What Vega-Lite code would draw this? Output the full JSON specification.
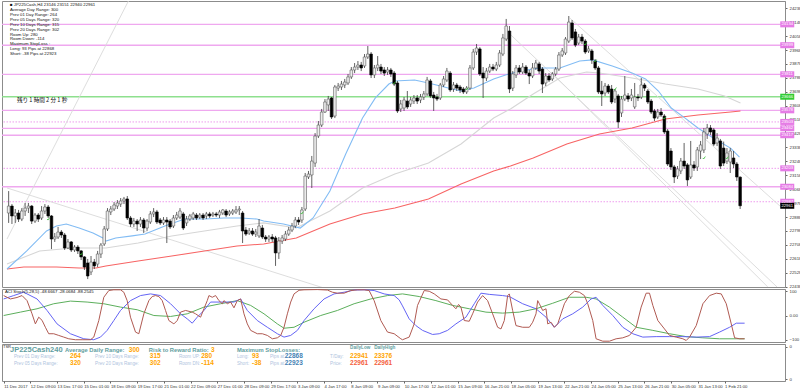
{
"$schema": "https://vega.github.io/schema/vega-lite/v6.json",
"background": "white",
"padding": {"left": 0, "top": 0, "right": 0, "bottom": 0},
"spacing": 2,
"bounds": "flush",
"config": {"view": {"stroke": "#8c8c8c", "strokeWidth": 1}, "font": "Liberation Sans", "axis": {"labelFont": "Liberation Sans", "grid": false, "title": null, "domainColor": "#8c8c8c", "tickColor": "#666666", "labelColor": "#333333", "labelFontSize": 4.3, "tickSize": 2, "labelPadding": 2, "labelOverlap": false, "tickCount": 60}},
"datasets": {
"candles": [
{"i":0,"o":22914,"c":22959,"h":23056,"l":22850},{"i":1,"o":22959,"c":22895,"h":22972,"l":22843},{"i":2,"o":22895,"c":22914,"h":22940,"l":22850},{"i":3,"o":22914,"c":22875,"h":22934,"l":22856},{"i":4,"o":22875,"c":22927,"h":22946,"l":22862},{"i":5,"o":22927,"c":22946,"h":22979,"l":22895},{"i":6,"o":22946,"c":22959,"h":22979,"l":22914},{"i":7,"o":22959,"c":22862,"h":22966,"l":22843},{"i":8,"o":22862,"c":22901,"h":22914,"l":22850},{"i":9,"o":22901,"c":22875,"h":22914,"l":22856},
{"i":10,"o":22882,"c":22927,"h":22959,"l":22869},{"i":11,"o":22927,"c":22953,"h":22972,"l":22908},{"i":12,"o":22953,"c":22895,"h":22966,"l":22882},{"i":13,"o":22895,"c":22746,"h":22901,"l":22681},{"i":14,"o":22746,"c":22759,"h":22785,"l":22727},{"i":15,"o":22759,"c":22791,"h":22824,"l":22746},{"i":16,"o":22791,"c":22772,"h":22804,"l":22753},{"i":17,"o":22772,"c":22688,"h":22785,"l":22675},{"i":18,"o":22688,"c":22727,"h":22746,"l":22681},{"i":19,"o":22727,"c":22675,"h":22733,"l":22662},
{"i":20,"o":22675,"c":22694,"h":22707,"l":22662},{"i":21,"o":22694,"c":22669,"h":22707,"l":22649},{"i":22,"o":22669,"c":22630,"h":22675,"l":22610},{"i":23,"o":22630,"c":22565,"h":22636,"l":22546},{"i":24,"o":22591,"c":22507,"h":22617,"l":22487},{"i":25,"o":22533,"c":22597,"h":22636,"l":22513},{"i":26,"o":22597,"c":22572,"h":22617,"l":22552},{"i":27,"o":22584,"c":22649,"h":22669,"l":22565},{"i":28,"o":22649,"c":22707,"h":22720,"l":22623},{"i":29,"o":22714,"c":22811,"h":22830,"l":22701},
{"i":30,"o":22811,"c":22927,"h":22946,"l":22798},{"i":31,"o":22921,"c":22940,"h":22959,"l":22901},{"i":32,"o":22940,"c":22966,"h":22985,"l":22927},{"i":33,"o":22959,"c":22979,"h":22998,"l":22940},{"i":34,"o":22972,"c":22992,"h":23011,"l":22953},{"i":35,"o":22992,"c":23005,"h":23018,"l":22972},{"i":36,"o":23005,"c":22882,"h":23024,"l":22869},{"i":37,"o":22882,"c":22843,"h":22895,"l":22824},{"i":38,"o":22843,"c":22862,"h":22882,"l":22824},{"i":39,"o":22862,"c":22843,"h":22875,"l":22798},
{"i":40,"o":22843,"c":22869,"h":22888,"l":22824},{"i":41,"o":22869,"c":22817,"h":22882,"l":22785},{"i":42,"o":22817,"c":22862,"h":22875,"l":22798},{"i":43,"o":22856,"c":22908,"h":22927,"l":22843},{"i":44,"o":22908,"c":22921,"h":22946,"l":22888},{"i":45,"o":22921,"c":22856,"h":22934,"l":22843},{"i":46,"o":22869,"c":22850,"h":22882,"l":22837},{"i":47,"o":22850,"c":22869,"h":22888,"l":22837},{"i":48,"o":22869,"c":22856,"h":22888,"l":22720},{"i":49,"o":22862,"c":22824,"h":22875,"l":22811},
{"i":50,"o":22830,"c":22882,"h":22901,"l":22817},{"i":51,"o":22882,"c":22901,"h":22921,"l":22869},{"i":52,"o":22888,"c":22927,"h":22946,"l":22875},{"i":53,"o":22908,"c":22817,"h":22921,"l":22804},{"i":54,"o":22850,"c":22875,"h":22895,"l":22830},{"i":55,"o":22875,"c":22895,"h":22908,"l":22862},{"i":56,"o":22882,"c":22908,"h":22921,"l":22869},{"i":57,"o":22901,"c":22882,"h":22914,"l":22869},{"i":58,"o":22888,"c":22901,"h":22914,"l":22875},{"i":59,"o":22901,"c":22882,"h":22914,"l":22869},
{"i":60,"o":22895,"c":22908,"h":22921,"l":22875},{"i":61,"o":22908,"c":22895,"h":22921,"l":22882},{"i":62,"o":22901,"c":22908,"h":22921,"l":22888},{"i":63,"o":22908,"c":22901,"h":22921,"l":22888},{"i":64,"o":22901,"c":22921,"h":22934,"l":22882},{"i":65,"o":22914,"c":22934,"h":22940,"l":22901},{"i":66,"o":22927,"c":22901,"h":22940,"l":22888},{"i":67,"o":22908,"c":22921,"h":22934,"l":22895},{"i":68,"o":22914,"c":22927,"h":22940,"l":22901},{"i":69,"o":22921,"c":22934,"h":22959,"l":22908},
{"i":70,"o":22934,"c":22940,"h":22959,"l":22901},{"i":71,"o":22914,"c":22798,"h":22927,"l":22720},{"i":72,"o":22804,"c":22778,"h":22824,"l":22766},{"i":73,"o":22785,"c":22798,"h":22817,"l":22772},{"i":74,"o":22798,"c":22778,"h":22817,"l":22766},{"i":75,"o":22778,"c":22791,"h":22811,"l":22759},{"i":76,"o":22766,"c":22830,"h":22875,"l":22753},{"i":77,"o":22817,"c":22759,"h":22837,"l":22746},{"i":78,"o":22759,"c":22746,"h":22772,"l":22727},{"i":79,"o":22746,"c":22759,"h":22772,"l":22727},
{"i":80,"o":22759,"c":22746,"h":22778,"l":22727},{"i":81,"o":22753,"c":22656,"h":22766,"l":22572},{"i":82,"o":22656,"c":22733,"h":22759,"l":22617},{"i":83,"o":22733,"c":22753,"h":22772,"l":22714},{"i":84,"o":22746,"c":22778,"h":22798,"l":22733},{"i":85,"o":22778,"c":22804,"h":22824,"l":22766},{"i":86,"o":22804,"c":22830,"h":22850,"l":22791},{"i":87,"o":22830,"c":22869,"h":22888,"l":22817},{"i":88,"o":22869,"c":22856,"h":22888,"l":22837},{"i":89,"o":22869,"c":22934,"h":22953,"l":22850},
{"i":90,"o":22940,"c":23153,"h":23173,"l":22927},{"i":91,"o":23147,"c":23166,"h":23186,"l":23134},{"i":92,"o":23160,"c":23250,"h":23283,"l":23076},{"i":93,"o":23237,"c":23412,"h":23431,"l":23212},{"i":94,"o":23412,"c":23483,"h":23509,"l":23399},{"i":95,"o":23483,"c":23567,"h":23587,"l":23470},{"i":96,"o":23567,"c":23632,"h":23651,"l":23561},{"i":97,"o":23613,"c":23651,"h":23671,"l":23574},{"i":98,"o":23658,"c":23535,"h":23664,"l":23522},{"i":99,"o":23541,"c":23729,"h":23742,"l":23528},
{"i":100,"o":23722,"c":23735,"h":23755,"l":23703},{"i":101,"o":23729,"c":23748,"h":23768,"l":23710},{"i":102,"o":23742,"c":23761,"h":23781,"l":23722},{"i":103,"o":23755,"c":23794,"h":23813,"l":23742},{"i":104,"o":23794,"c":23839,"h":23858,"l":23781},{"i":105,"o":23839,"c":23858,"h":23884,"l":23819},{"i":106,"o":23858,"c":23871,"h":23897,"l":23839},{"i":107,"o":23871,"c":23852,"h":23891,"l":23832},{"i":108,"o":23865,"c":23923,"h":23942,"l":23852},{"i":109,"o":23923,"c":23942,"h":23994,"l":23910},
{"i":110,"o":23942,"c":23807,"h":23955,"l":23787},{"i":111,"o":23807,"c":23852,"h":23871,"l":23787},{"i":112,"o":23852,"c":23871,"h":23929,"l":23832},{"i":113,"o":23858,"c":23832,"h":23878,"l":23813},{"i":114,"o":23839,"c":23819,"h":23858,"l":23800},{"i":115,"o":23826,"c":23839,"h":23858,"l":23807},{"i":116,"o":23839,"c":23813,"h":23852,"l":23794},{"i":117,"o":23819,"c":23748,"h":23832,"l":23735},{"i":118,"o":23755,"c":23574,"h":23768,"l":23561},{"i":119,"o":23587,"c":23619,"h":23645,"l":23567},
{"i":120,"o":23593,"c":23645,"h":23664,"l":23574},{"i":121,"o":23638,"c":23600,"h":23703,"l":23587},{"i":122,"o":23619,"c":23645,"h":23664,"l":23600},{"i":123,"o":23638,"c":23658,"h":23677,"l":23619},{"i":124,"o":23658,"c":23638,"h":23677,"l":23619},{"i":125,"o":23645,"c":23664,"h":23684,"l":23625},{"i":126,"o":23664,"c":23684,"h":23703,"l":23645},{"i":127,"o":23684,"c":23774,"h":23794,"l":23671},{"i":128,"o":23768,"c":23671,"h":23781,"l":23658},{"i":129,"o":23677,"c":23658,"h":23697,"l":23574},
{"i":130,"o":23664,"c":23651,"h":23684,"l":23638},{"i":131,"o":23658,"c":23742,"h":23755,"l":23645},{"i":132,"o":23742,"c":23781,"h":23800,"l":23729},{"i":133,"o":23774,"c":23832,"h":23852,"l":23761},{"i":134,"o":23819,"c":23710,"h":23832,"l":23697},{"i":135,"o":23716,"c":23742,"h":23761,"l":23697},{"i":136,"o":23742,"c":23722,"h":23755,"l":23703},{"i":137,"o":23729,"c":23710,"h":23742,"l":23690},{"i":138,"o":23716,"c":23697,"h":23729,"l":23684},{"i":139,"o":23697,"c":23722,"h":23735,"l":23684},
{"i":140,"o":23722,"c":23852,"h":23871,"l":23710},{"i":141,"o":23852,"c":23955,"h":23975,"l":23839},{"i":142,"o":23955,"c":23981,"h":24007,"l":23936},{"i":143,"o":23975,"c":23813,"h":23987,"l":23800},{"i":144,"o":23819,"c":23787,"h":23858,"l":23658},{"i":145,"o":23787,"c":23832,"h":23852,"l":23768},{"i":146,"o":23832,"c":23858,"h":23878,"l":23819},{"i":147,"o":23858,"c":23845,"h":23878,"l":23832},{"i":148,"o":23845,"c":23871,"h":23891,"l":23832},{"i":149,"o":23871,"c":23949,"h":23968,"l":23858},
{"i":150,"o":23942,"c":24046,"h":24072,"l":23929},{"i":151,"o":24039,"c":24123,"h":24169,"l":24026},{"i":152,"o":24091,"c":23716,"h":24123,"l":23690},{"i":153,"o":23722,"c":23813,"h":23832,"l":23703},{"i":154,"o":23807,"c":23852,"h":23871,"l":23787},{"i":155,"o":23852,"c":23826,"h":23871,"l":23813},{"i":156,"o":23826,"c":23858,"h":23884,"l":23813},{"i":157,"o":23858,"c":23819,"h":23871,"l":23807},{"i":158,"o":23819,"c":23800,"h":23839,"l":23748},{"i":159,"o":23800,"c":23852,"h":23884,"l":23787},
{"i":160,"o":23852,"c":23884,"h":23904,"l":23839},{"i":161,"o":23878,"c":23832,"h":23891,"l":23813},{"i":162,"o":23845,"c":23748,"h":23858,"l":23690},{"i":163,"o":23755,"c":23800,"h":23819,"l":23735},{"i":164,"o":23800,"c":23774,"h":23819,"l":23761},{"i":165,"o":23781,"c":23813,"h":23826,"l":23768},{"i":166,"o":23813,"c":23845,"h":23858,"l":23800},{"i":167,"o":23845,"c":23936,"h":23955,"l":23832},{"i":168,"o":23936,"c":23962,"h":23981,"l":23923},{"i":169,"o":23949,"c":24039,"h":24052,"l":23936},
{"i":170,"o":24026,"c":24149,"h":24188,"l":24013},{"i":171,"o":24143,"c":24046,"h":24162,"l":24033},{"i":172,"o":24085,"c":24000,"h":24104,"l":23987},{"i":173,"o":24013,"c":24052,"h":24072,"l":24000},{"i":174,"o":24052,"c":24026,"h":24072,"l":24007},{"i":175,"o":24026,"c":23955,"h":24039,"l":23942},{"i":176,"o":23962,"c":23975,"h":23994,"l":23949},{"i":177,"o":23962,"c":23904,"h":23975,"l":23878},{"i":178,"o":23897,"c":23852,"h":23910,"l":23839},{"i":179,"o":23852,"c":23697,"h":23865,"l":23684},
{"i":180,"o":23703,"c":23684,"h":23768,"l":23606},{"i":181,"o":23690,"c":23735,"h":23755,"l":23671},{"i":182,"o":23735,"c":23697,"h":23748,"l":23684},{"i":183,"o":23716,"c":23632,"h":23742,"l":23619},{"i":184,"o":23651,"c":23703,"h":23716,"l":23625},{"i":185,"o":23671,"c":23503,"h":23684,"l":23464},{"i":186,"o":23561,"c":23651,"h":23671,"l":23535},{"i":187,"o":23651,"c":23677,"h":23800,"l":23638},{"i":188,"o":23671,"c":23651,"h":23690,"l":23632},{"i":189,"o":23658,"c":23677,"h":23716,"l":23638},
{"i":190,"o":23600,"c":23664,"h":23755,"l":23587},{"i":191,"o":23664,"c":23658,"h":23684,"l":23638},{"i":192,"o":23664,"c":23742,"h":23787,"l":23651},{"i":193,"o":23742,"c":23722,"h":23755,"l":23703},{"i":194,"o":23703,"c":23632,"h":23716,"l":23619},{"i":195,"o":23638,"c":23567,"h":23651,"l":23554},{"i":196,"o":23574,"c":23528,"h":23587,"l":23509},{"i":197,"o":23535,"c":23567,"h":23587,"l":23522},{"i":198,"o":23567,"c":23548,"h":23593,"l":23535},{"i":199,"o":23541,"c":23438,"h":23554,"l":23425},
{"i":200,"o":23444,"c":23231,"h":23457,"l":23218},{"i":201,"o":23315,"c":23212,"h":23334,"l":23192},{"i":202,"o":23212,"c":23147,"h":23225,"l":23108},{"i":203,"o":23153,"c":23199,"h":23218,"l":23134},{"i":204,"o":23186,"c":23250,"h":23270,"l":23166},{"i":205,"o":23250,"c":23218,"h":23367,"l":23199},{"i":206,"o":23225,"c":23128,"h":23237,"l":23089},{"i":207,"o":23147,"c":23225,"h":23380,"l":23134},{"i":208,"o":23225,"c":23205,"h":23250,"l":23186},{"i":209,"o":23212,"c":23322,"h":23341,"l":23186},
{"i":210,"o":23315,"c":23354,"h":23380,"l":23263},{"i":211,"o":23322,"c":23438,"h":23464,"l":23302},{"i":212,"o":23425,"c":23464,"h":23490,"l":23393},{"i":213,"o":23464,"c":23438,"h":23483,"l":23419},{"i":214,"o":23451,"c":23360,"h":23464,"l":23347},{"i":215,"o":23367,"c":23399,"h":23431,"l":23347},{"i":216,"o":23380,"c":23218,"h":23393,"l":23199},{"i":217,"o":23334,"c":23237,"h":23376,"l":23218},{"i":218,"o":23250,"c":23302,"h":23334,"l":23231},{"i":219,"o":23244,"c":23315,"h":23334,"l":23173},
{"i":220,"o":23270,"c":23231,"h":23315,"l":23205},{"i":221,"o":23231,"c":23147,"h":23244,"l":23121},{"i":222,"o":23146,"c":22961,"h":23151,"l":22940}
],
"signals": [
{"i":12,"p":22875},{"i":22,"p":22649},{"i":89,"p":22914},{"i":117,"p":23755},{"i":139,"p":23716},{"i":175,"p":24007},{"i":178,"p":23897},{"i":184,"p":23716},{"i":199,"p":23528},{"i":211,"p":23270},{"i":218,"p":23270}
],
"ma": [
{"s":"blue","i":-0.5,"p":22552},{"s":"blue","i":5.5,"p":22669},{"s":"blue","i":11.5,"p":22798},{"s":"blue","i":14.5,"p":22830},{"s":"blue","i":17.5,"p":22843},{"s":"blue","i":21.4,"p":22817},{"s":"blue","i":25.6,"p":22785},{"s":"blue","i":28.6,"p":22753},{"s":"blue","i":29.5,"p":22733},{"s":"blue","i":32.5,"p":22753},{"s":"blue","i":37.5,"p":22766},{"s":"blue","i":41.4,"p":22778},{"s":"blue","i":47.4,"p":22830},{"s":"blue","i":53.4,"p":22875},{"s":"blue","i":59.4,"p":22875},{"s":"blue","i":65.4,"p":22882},{"s":"blue","i":70.5,"p":22882},{"s":"blue","i":75.3,"p":22875},{"s":"blue","i":77.4,"p":22862},{"s":"blue","i":83.4,"p":22843},{"s":"blue","i":88.5,"p":22817},{"s":"blue","i":92.4,"p":22882},{"s":"blue","i":97.5,"p":23056},{"s":"blue","i":102.3,"p":23296},{"s":"blue","i":107.4,"p":23528},{"s":"blue","i":111.3,"p":23658},{"s":"blue","i":115.4,"p":23748},{"s":"blue","i":117.2,"p":23768},{"s":"blue","i":123.2,"p":23774},{"s":"blue","i":127.4,"p":23755},{"s":"blue","i":133.4,"p":23722},{"s":"blue","i":137.3,"p":23703},{"s":"blue","i":141.2,"p":23722},{"s":"blue","i":147.2,"p":23781},{"s":"blue","i":150.8,"p":23807},{"s":"blue","i":155.3,"p":23832},{"s":"blue","i":161.3,"p":23852},{"s":"blue","i":167.3,"p":23852},{"s":"blue","i":173.3,"p":23897},{"s":"blue","i":177.2,"p":23904},{"s":"blue","i":183.2,"p":23865},{"s":"blue","i":189.2,"p":23819},{"s":"blue","i":193.3,"p":23781},{"s":"blue","i":197.2,"p":23703},{"s":"blue","i":201.1,"p":23593},{"s":"blue","i":205.3,"p":23528},{"s":"blue","i":209.2,"p":23464},{"s":"blue","i":214.3,"p":23393},{"s":"blue","i":219.1,"p":23334},{"s":"blue","i":221.8,"p":23276},
{"s":"gray","i":-0.5,"p":22584},{"s":"gray","i":9.4,"p":22669},{"s":"gray","i":19.6,"p":22688},{"s":"gray","i":29.5,"p":22688},{"s":"gray","i":39.3,"p":22720},{"s":"gray","i":49.5,"p":22766},{"s":"gray","i":59.4,"p":22798},{"s":"gray","i":69.3,"p":22830},{"s":"gray","i":77.4,"p":22850},{"s":"gray","i":87.3,"p":22817},{"s":"gray","i":97.5,"p":22927},{"s":"gray","i":107.4,"p":23076},{"s":"gray","i":117.2,"p":23166},{"s":"gray","i":127.4,"p":23237},{"s":"gray","i":137.3,"p":23360},{"s":"gray","i":147.2,"p":23528},{"s":"gray","i":152.3,"p":23587},{"s":"gray","i":159.2,"p":23684},{"s":"gray","i":167.3,"p":23787},{"s":"gray","i":175.4,"p":23826},{"s":"gray","i":179.3,"p":23819},{"s":"gray","i":189.2,"p":23787},{"s":"gray","i":199.3,"p":23748},{"s":"gray","i":209.2,"p":23716},{"s":"gray","i":217.3,"p":23671},{"s":"gray","i":222.1,"p":23625},
{"s":"red","i":-0.5,"p":22552},{"s":"red","i":4.6,"p":22565},{"s":"red","i":14.5,"p":22565},{"s":"red","i":21.4,"p":22559},{"s":"red","i":26.5,"p":22559},{"s":"red","i":29.5,"p":22572},{"s":"red","i":39.3,"p":22604},{"s":"red","i":49.5,"p":22636},{"s":"red","i":59.4,"p":22669},{"s":"red","i":69.3,"p":22701},{"s":"red","i":77.4,"p":22714},{"s":"red","i":87.3,"p":22753},{"s":"red","i":97.5,"p":22843},{"s":"red","i":107.4,"p":22908},{"s":"red","i":117.2,"p":22946},{"s":"red","i":127.4,"p":23005},{"s":"red","i":137.3,"p":23102},{"s":"red","i":147.2,"p":23186},{"s":"red","i":152.3,"p":23218},{"s":"red","i":159.2,"p":23270},{"s":"red","i":169.4,"p":23360},{"s":"red","i":179.3,"p":23425},{"s":"red","i":189.2,"p":23464},{"s":"red","i":199.3,"p":23522},{"s":"red","i":209.2,"p":23548},{"s":"red","i":219.1,"p":23567},{"s":"red","i":222.1,"p":23574}
],
"trend": [
{"id":"t1","i":-0.5,"p":22746},{"id":"t1","i":36.35,"p":24285},
{"id":"t2","i":-0.5,"p":23076},{"id":"t2","i":95.7,"p":22429},
{"id":"tA","i":150.2,"p":24110},{"id":"tA","i":233.2,"p":22436},
{"id":"tB","i":170.3,"p":24175},{"id":"tB","i":234.1,"p":22959},
{"id":"tC","i":165.2,"p":23813},{"id":"tC","i":230.4,"p":22436}
],
"levels": [
{"p":24134,"k":"s"},{"p":23999,"k":"s"},{"p":23811,"k":"s"},{"p":23666,"k":"g"},{"p":23578,"k":"s"},{"p":23503,"k":"d"},{"p":23462,"k":"s"},{"p":23417,"k":"s"},{"p":23203,"k":"d"},{"p":23084,"k":"s"},{"p":22987,"k":"d"}
],
"plabels": [
{"p":24134,"label":"24134","k":"s"},{"p":23999,"label":"23999","k":"s"},{"p":23811,"label":"23811","k":"s"},{"p":23666,"label":"23666","k":"g"},{"p":23578,"label":"23578","k":"s"},{"p":23503,"label":"23503","k":"s"},{"p":23462,"label":"23462","k":"s"},{"p":23417,"label":"23417","k":"s"},{"p":23203,"label":"23203","k":"s"},{"p":23084,"label":"23084","k":"s"},{"p":22987,"label":"22987","k":"s"},{"p":22961,"label":"22961","k":"b"}
],
"stoch": [
{"s":"k","i":0,"v":83},{"s":"k","i":2,"v":69},{"s":"k","i":4,"v":75},{"s":"k","i":5.5,"v":83},{"s":"k","i":7,"v":62},{"s":"k","i":8.5,"v":7},{"s":"k","i":9.5,"v":-35},{"s":"k","i":10.5,"v":-7},{"s":"k","i":11.5,"v":-20},{"s":"k","i":12.5,"v":-49},{"s":"k","i":13.5,"v":-76},{"s":"k","i":15,"v":-76},{"s":"k","i":16.5,"v":-83},{"s":"k","i":18,"v":-90},{"s":"k","i":19.5,"v":-97},{"s":"k","i":21.5,"v":-101},{"s":"k","i":23.5,"v":-101},{"s":"k","i":26,"v":-101},{"s":"k","i":27,"v":-90},{"s":"k","i":28.5,"v":-21},{"s":"k","i":30,"v":76},{"s":"k","i":31.5,"v":104},{"s":"k","i":33,"v":107},{"s":"k","i":35,"v":107},{"s":"k","i":36,"v":97},{"s":"k","i":37,"v":62},{"s":"k","i":38,"v":-7},{"s":"k","i":39.5,"v":-69},{"s":"k","i":40.5,"v":-76},{"s":"k","i":42,"v":7},{"s":"k","i":43.5,"v":62},{"s":"k","i":44.5,"v":79},{"s":"k","i":45.5,"v":83},{"s":"k","i":46.5,"v":79},{"s":"k","i":47.5,"v":62},{"s":"k","i":48.5,"v":21},{"s":"k","i":49.5,"v":-21},{"s":"k","i":51,"v":-35},{"s":"k","i":52,"v":-21},{"s":"k","i":53,"v":14},{"s":"k","i":54.5,"v":21},{"s":"k","i":56.5,"v":14},{"s":"k","i":57.5,"v":7},{"s":"k","i":59,"v":-7},{"s":"k","i":60,"v":28},{"s":"k","i":61,"v":62},{"s":"k","i":61.5,"v":83},{"s":"k","i":62.5,"v":76},{"s":"k","i":63.5,"v":83},{"s":"k","i":64.5,"v":62},{"s":"k","i":65.5,"v":49},{"s":"k","i":66,"v":62},{"s":"k","i":67,"v":49},{"s":"k","i":68,"v":56},{"s":"k","i":69,"v":32},{"s":"k","i":70,"v":62},{"s":"k","i":71,"v":69},{"s":"k","i":72,"v":7},{"s":"k","i":73,"v":-35},{"s":"k","i":74,"v":-62},{"s":"k","i":76,"v":-76},{"s":"k","i":77.5,"v":-76},{"s":"k","i":79,"v":-83},{"s":"k","i":80.5,"v":-97},{"s":"k","i":82,"v":-93},{"s":"k","i":83,"v":-83},{"s":"k","i":84,"v":-49},{"s":"k","i":85,"v":7},{"s":"k","i":86,"v":56},{"s":"k","i":87,"v":90},{"s":"k","i":88.5,"v":105},{"s":"k","i":90,"v":107},{"s":"k","i":94,"v":108},{"s":"k","i":97,"v":106},{"s":"k","i":98.5,"v":97},{"s":"k","i":100,"v":93},{"s":"k","i":102,"v":93},{"s":"k","i":104,"v":104},{"s":"k","i":106,"v":107},{"s":"k","i":108,"v":107},{"s":"k","i":109.5,"v":104},{"s":"k","i":111,"v":62},{"s":"k","i":113,"v":-21},{"s":"k","i":115,"v":-69},{"s":"k","i":117,"v":-76},{"s":"k","i":119,"v":-97},{"s":"k","i":119.5,"v":-101},{"s":"k","i":121.5,"v":-90},{"s":"k","i":123,"v":-35},{"s":"k","i":124,"v":42},{"s":"k","i":126,"v":104},{"s":"k","i":127.5,"v":101},{"s":"k","i":129,"v":90},{"s":"k","i":131,"v":69},{"s":"k","i":133,"v":65},{"s":"k","i":134.5,"v":42},{"s":"k","i":135.5,"v":28},{"s":"k","i":136.3,"v":46},{"s":"k","i":137,"v":35},{"s":"k","i":138,"v":-21},{"s":"k","i":139.5,"v":-24},{"s":"k","i":140.5,"v":7},{"s":"k","i":142,"v":56},{"s":"k","i":143.5,"v":83},{"s":"k","i":145,"v":62},{"s":"k","i":146.5,"v":7},{"s":"k","i":148,"v":-49},{"s":"k","i":149,"v":-56},{"s":"k","i":150,"v":-21},{"s":"k","i":151,"v":83},{"s":"k","i":151.5,"v":90},{"s":"k","i":152.5,"v":21},{"s":"k","i":153.5,"v":-42},{"s":"k","i":155.5,"v":-49},{"s":"k","i":157.5,"v":-49},{"s":"k","i":158.5,"v":-28},{"s":"k","i":159.5,"v":7},{"s":"k","i":160,"v":62},{"s":"k","i":160.5,"v":49},{"s":"k","i":161.5,"v":21},{"s":"k","i":162.5,"v":28},{"s":"k","i":163,"v":-35},{"s":"k","i":164,"v":-28},{"s":"k","i":165,"v":-49},{"s":"k","i":166,"v":-35},{"s":"k","i":167,"v":7},{"s":"k","i":168,"v":49},{"s":"k","i":169.5,"v":83},{"s":"k","i":171,"v":101},{"s":"k","i":172.5,"v":97},{"s":"k","i":174,"v":83},{"s":"k","i":175,"v":49},{"s":"k","i":176.5,"v":-21},{"s":"k","i":177.5,"v":-97},{"s":"k","i":179.5,"v":-107},{"s":"k","i":181.5,"v":-107},{"s":"k","i":183.5,"v":-97},{"s":"k","i":185.5,"v":-93},{"s":"k","i":187.5,"v":-83},{"s":"k","i":189.5,"v":-49},{"s":"k","i":191,"v":35},{"s":"k","i":192.5,"v":93},{"s":"k","i":193.5,"v":93},{"s":"k","i":194.5,"v":42},{"s":"k","i":196,"v":-21},{"s":"k","i":198,"v":-56},{"s":"k","i":199.5,"v":-83},{"s":"k","i":201.5,"v":-90},{"s":"k","i":203.5,"v":-97},{"s":"k","i":204.5,"v":-104},{"s":"k","i":205.5,"v":-90},{"s":"k","i":207.5,"v":-42},{"s":"k","i":209.5,"v":49},{"s":"k","i":211.5,"v":83},{"s":"k","i":213.5,"v":93},{"s":"k","i":215,"v":90},{"s":"k","i":216.5,"v":49},{"s":"k","i":218,"v":-35},{"s":"k","i":219,"v":-93},{"s":"k","i":220.5,"v":-97},{"s":"k","i":222,"v":-97},
{"s":"b","i":0,"v":69},{"s":"b","i":3,"v":83},{"s":"b","i":6,"v":97},{"s":"b","i":10,"v":69},{"s":"b","i":13,"v":21},{"s":"b","i":16,"v":-35},{"s":"b","i":20,"v":-76},{"s":"b","i":24,"v":-97},{"s":"b","i":27,"v":-101},{"s":"b","i":29,"v":-90},{"s":"b","i":31,"v":-62},{"s":"b","i":33,"v":-21},{"s":"b","i":35,"v":21},{"s":"b","i":38,"v":62},{"s":"b","i":41,"v":83},{"s":"b","i":44,"v":90},{"s":"b","i":47,"v":83},{"s":"b","i":50,"v":49},{"s":"b","i":53,"v":7},{"s":"b","i":55,"v":-14},{"s":"b","i":56.5,"v":-32},{"s":"b","i":58,"v":-7},{"s":"b","i":60,"v":21},{"s":"b","i":62,"v":56},{"s":"b","i":65,"v":56},{"s":"b","i":69,"v":56},{"s":"b","i":71,"v":69},{"s":"b","i":73,"v":21},{"s":"b","i":76,"v":-21},{"s":"b","i":79,"v":-49},{"s":"b","i":82,"v":-76},{"s":"b","i":84,"v":-90},{"s":"b","i":86,"v":-83},{"s":"b","i":88,"v":-62},{"s":"b","i":90,"v":-21},{"s":"b","i":93,"v":28},{"s":"b","i":96,"v":69},{"s":"b","i":99,"v":90},{"s":"b","i":102,"v":97},{"s":"b","i":105,"v":106},{"s":"b","i":108,"v":107},{"s":"b","i":111,"v":104},{"s":"b","i":114,"v":90},{"s":"b","i":117,"v":83},{"s":"b","i":118.5,"v":65},{"s":"b","i":119.5,"v":40},{"s":"b","i":121.5,"v":-14},{"s":"b","i":123.5,"v":-42},{"s":"b","i":125.5,"v":-62},{"s":"b","i":128.5,"v":-79},{"s":"b","i":130.5,"v":-76},{"s":"b","i":133,"v":-62},{"s":"b","i":135.5,"v":-35},{"s":"b","i":138.5,"v":-7},{"s":"b","i":141,"v":49},{"s":"b","i":143,"v":93},{"s":"b","i":145.5,"v":88},{"s":"b","i":149.5,"v":83},{"s":"b","i":151.5,"v":79},{"s":"b","i":155.5,"v":49},{"s":"b","i":159.5,"v":28},{"s":"b","i":162.5,"v":-7},{"s":"b","i":165,"v":-49},{"s":"b","i":167.5,"v":-14},{"s":"b","i":170.5,"v":7},{"s":"b","i":173.5,"v":35},{"s":"b","i":176,"v":69},{"s":"b","i":177.5,"v":76},{"s":"b","i":179.5,"v":42},{"s":"b","i":182.5,"v":0},{"s":"b","i":185.5,"v":-49},{"s":"b","i":188.5,"v":-76},{"s":"b","i":191.5,"v":-90},{"s":"b","i":195.5,"v":-88},{"s":"b","i":199.5,"v":-88},{"s":"b","i":203.5,"v":-88},{"s":"b","i":207.5,"v":-90},{"s":"b","i":211.5,"v":-88},{"s":"b","i":214.5,"v":-69},{"s":"b","i":217.5,"v":-49},{"s":"b","i":219.5,"v":-32},{"s":"b","i":222,"v":-32},
{"s":"g","i":0,"v":0},{"s":"g","i":5,"v":14},{"s":"g","i":10,"v":28},{"s":"g","i":15,"v":49},{"s":"g","i":20,"v":60},{"s":"g","i":25,"v":56},{"s":"g","i":30,"v":49},{"s":"g","i":35,"v":35},{"s":"g","i":40,"v":24},{"s":"g","i":45,"v":0},{"s":"g","i":50,"v":-4},{"s":"g","i":55,"v":7},{"s":"g","i":60,"v":35},{"s":"g","i":65,"v":49},{"s":"g","i":70,"v":62},{"s":"g","i":74,"v":42},{"s":"g","i":78,"v":7},{"s":"g","i":82,"v":-35},{"s":"g","i":84,"v":-53},{"s":"g","i":87,"v":-49},{"s":"g","i":90,"v":-28},{"s":"g","i":95,"v":0},{"s":"g","i":100,"v":21},{"s":"g","i":105,"v":49},{"s":"g","i":110,"v":69},{"s":"g","i":115,"v":83},{"s":"g","i":119.5,"v":90},{"s":"g","i":124.5,"v":79},{"s":"g","i":129.5,"v":62},{"s":"g","i":134.5,"v":42},{"s":"g","i":139.5,"v":28},{"s":"g","i":144.5,"v":14},{"s":"g","i":149.5,"v":10},{"s":"g","i":154.5,"v":14},{"s":"g","i":159.5,"v":28},{"s":"g","i":164.5,"v":51},{"s":"g","i":169.5,"v":76},{"s":"g","i":174.5,"v":76},{"s":"g","i":177.5,"v":69},{"s":"g","i":181.5,"v":35},{"s":"g","i":185.5,"v":-7},{"s":"g","i":189.5,"v":-49},{"s":"g","i":194.5,"v":-62},{"s":"g","i":199.5,"v":-76},{"s":"g","i":204.5,"v":-88},{"s":"g","i":209.5,"v":-93},{"s":"g","i":214.5,"v":-97},{"s":"g","i":219.5,"v":-97},{"s":"g","i":222,"v":-97}
]
},
"vconcat": [
{
"width": 783, "height": 286,
"layer": [
{"data": {"name": "levels"}, "transform": [{"filter": "datum.k == 's'"}], "mark": {"type": "rule", "color": "#efa8ef", "strokeWidth": 1.3}, "encoding": {"y": {"field": "p", "type": "quantitative", "scale": {"domain": [22435.7, 24285], "nice": false, "zero": false}, "axis": {"orient": "right", "tickCount": 60, "values": [22438,22528,22618,22708,22798,22888,22978,23068,23158,23248,23338,23428,23518,23608,23698,23788,23878,23968,24058,24148,24238], "format": "d"}}}},
{"data": {"name": "levels"}, "transform": [{"filter": "datum.k == 'g'"}], "mark": {"type": "rule", "color": "#8ee08e", "strokeWidth": 1.3}, "encoding": {"y": {"field": "p", "type": "quantitative"}}},
{"data": {"name": "levels"}, "transform": [{"filter": "datum.k == 'd'"}], "mark": {"type": "rule", "color": "#ee9cee", "strokeWidth": 1, "strokeDash": [1.5, 1.5]}, "encoding": {"y": {"field": "p", "type": "quantitative"}}},
{"data": {"name": "trend"}, "mark": {"type": "line", "color": "#d9d9d9", "strokeWidth": 0.9, "clip": true}, "encoding": {"x": {"field": "i", "type": "quantitative", "scale": {"domain": [-0.5, 234.1], "nice": false, "zero": false}, "axis": null}, "y": {"field": "p", "type": "quantitative"}, "detail": {"field": "id"}}},
{"data": {"name": "ma"}, "transform": [{"filter": "datum.s == 'gray'"}], "mark": {"type": "line", "strokeWidth": 1.1, "color": "#d6d6d6", "clip": true}, "encoding": {"x": {"field": "i", "type": "quantitative"}, "y": {"field": "p", "type": "quantitative"}}},
{"data": {"name": "ma"}, "transform": [{"filter": "datum.s == 'red'"}], "mark": {"type": "line", "strokeWidth": 1.1, "color": "#f76464", "clip": true}, "encoding": {"x": {"field": "i", "type": "quantitative"}, "y": {"field": "p", "type": "quantitative"}}},
{"data": {"name": "ma"}, "transform": [{"filter": "datum.s == 'blue'"}], "mark": {"type": "line", "strokeWidth": 1.1, "color": "#82bcf4", "clip": true}, "encoding": {"x": {"field": "i", "type": "quantitative"}, "y": {"field": "p", "type": "quantitative"}}},
{"data": {"name": "candles"}, "mark": {"type": "rule", "color": "#3a3a3a", "strokeWidth": 0.8}, "encoding": {"x": {"field": "i", "type": "quantitative"}, "y": {"field": "l", "type": "quantitative"}, "y2": {"field": "h"}}},
{"data": {"name": "candles"}, "mark": {"type": "bar", "width": 2.6, "strokeWidth": 0.6}, "encoding": {"x": {"field": "i", "type": "quantitative"}, "y": {"field": "o", "type": "quantitative"}, "y2": {"field": "c"}, "fill": {"condition": {"test": "datum.c >= datum.o", "value": "#ededed"}, "value": "#000000"}, "stroke": {"condition": {"test": "datum.c >= datum.o", "value": "#5a5a5a"}, "value": "#000000"}}},
{"data": {"name": "signals"}, "mark": {"type": "point", "shape": "M-1,0L-0.2,0.9L1.3,-1.3", "size": 5, "filled": false, "color": "#2eb82e", "strokeWidth": 0.8, "opacity": 1}, "encoding": {"x": {"field": "i", "type": "quantitative"}, "y": {"field": "p", "type": "quantitative"}}},
{"data": {"values": [{}]}, "mark": {"type": "text", "align": "left", "baseline": "top", "fontSize": 4.3, "lineHeight": 4.95, "color": "#111111"}, "encoding": {"x": {"datum": 0.4}, "y": {"datum": 24273}, "text": {"value": ["■ JP225Cash,H4  23146 23151 22940 22961", "Average Day  Range: 300", "Prev 01  Day  Range: 264", "Prev 05  Days Range: 320", "Prev 10  Days Range: 315", "Prev 20  Days Range: 302", "Room Up:     280", "Room Down: -114", "Maximum StopLoss :", "Long:  93 Pips at 22868", "Short: -38 Pips at 22923"]}}},
{"data": {"values": [{}]}, "mark": {"type": "text", "align": "left", "baseline": "middle", "fontSize": 5.6, "font": "Noto Sans CJK JP", "color": "#111111"}, "encoding": {"x": {"datum": 2.5}, "y": {"datum": 23645}, "text": {"value": "残り 1 時間 2 分 1 秒"}}},
{"data": {"name": "plabels"}, "mark": {"type": "tick", "orient": "horizontal", "size": 14, "thickness": 6, "opacity": 1, "clip": false}, "encoding": {"x": {"datum": 236.3}, "y": {"field": "p", "type": "quantitative"}, "color": {"condition": [{"test": "datum.k == 'g'", "value": "#33cc33"}, {"test": "datum.k == 'b'", "value": "#000000"}], "value": "#e67be6"}}},
{"data": {"name": "plabels"}, "mark": {"type": "text", "align": "center", "baseline": "middle", "fontSize": 4.2, "color": "#ffffff", "clip": false}, "encoding": {"x": {"datum": 236.3}, "y": {"field": "p", "type": "quantitative"}, "text": {"field": "label"}}}
]
},
{
"width": 783, "height": 53,
"data": {"name": "stoch"},
"layer": [
{"transform": [{"filter": "datum.s == 'g'"}], "mark": {"type": "line", "strokeWidth": 1, "color": "#5caf5c", "clip": true}, "encoding": {"x": {"field": "i", "type": "quantitative", "scale": {"domain": [-0.5, 234.1], "nice": false, "zero": false}, "axis": null}, "y": {"field": "v", "type": "quantitative", "scale": {"domain": [-110.4, 110.4], "nice": false, "zero": false}, "axis": {"orient": "right", "tickCount": 20, "values": [100, 0, -100], "labelExpr": "datum.value == 0 ? '0.00' : datum.label"}}}},
{"transform": [{"filter": "datum.s == 'b'"}], "mark": {"type": "line", "strokeWidth": 1, "color": "#6464f5", "clip": true}, "encoding": {"x": {"field": "i", "type": "quantitative"}, "y": {"field": "v", "type": "quantitative"}}},
{"transform": [{"filter": "datum.s == 'k'"}], "mark": {"type": "line", "strokeWidth": 1, "color": "#b05a52", "clip": true}, "encoding": {"x": {"field": "i", "type": "quantitative"}, "y": {"field": "v", "type": "quantitative"}}},
{"data": {"values": [{}]}, "mark": {"type": "text", "align": "left", "baseline": "middle", "fontSize": 4.3, "color": "#111111"}, "encoding": {"x": {"datum": 0.4}, "y": {"datum": 97}, "text": {"value": "ACI Stoch(5,28,5) -48.6667 -28.0684 -88.2545"}}}
]
},
{
"width": 783, "height": 37,
"data": {"values": [{}]},
"layer": [
{"mark": {"type": "text", "align": "left", "baseline": "middle", "fontSize": 4, "color": "#222222"}, "encoding": {"x": {"datum": -0.2, "type": "quantitative", "scale": {"domain": [-0.5, 234.1], "nice": false, "zero": false}, "axis": {"orient": "bottom", "tickCount": 60, "values": [0,8,16,24,32,40,48,56,64,72,80,88,96,104,112,120,128,136,144,152,160,168,176,184,192,200,208,216], "labelAlign": "left", "labelPadding": 1, "labelFontSize": 4.2, "labelOverlap": false, "labelFlush": false, "labelBound": false, "domain": false, "labelExpr": "['11 Dec 2017','12 Dec 09:00','13 Dec 17:00','15 Dec 01:00','18 Dec 09:00','19 Dec 17:00','21 Dec 01:00','22 Dec 09:00','27 Dec 01:00','28 Dec 09:00','29 Dec 17:00','3 Jan 09:00','4 Jan 17:00','8 Jan 09:00','9 Jan 09:00','10 Jan 17:00','12 Jan 01:00','15 Jan 09:00','16 Jan 21:00','18 Jan 05:00','19 Jan 13:00','22 Jan 21:00','24 Jan 05:00','25 Jan 13:00','26 Jan 21:00','30 Jan 05:00','31 Jan 13:00','1 Feb 21:00'][round(datum.value/8)]"}}, "y": {"datum": 0.92, "type": "quantitative", "scale": {"domain": [0, 1], "nice": false, "zero": false}, "axis": {"orient": "right", "tickCount": 20, "values": [0.93, 0.05], "labelExpr": "'0'"}}, "text": {"value": "TSR"}}},
{"mark": {"type": "text", "align": "left", "baseline": "middle", "fontSize": 7.5, "fontWeight": "bold", "color": "#5f9ea0"}, "encoding": {"x": {"datum": 1.9}, "y": {"datum": 0.84}, "text": {"value": "JP225Cash240"}}},
{"mark": {"type": "text", "align": "left", "baseline": "middle", "fontSize": 5.8, "fontWeight": "bold", "color": "#5f9ea0"}, "encoding": {"x": {"datum": 18.4}, "y": {"datum": 0.84}, "text": {"value": "Average Daily Range:"}}},
{"mark": {"type": "text", "align": "left", "baseline": "middle", "fontSize": 5.8, "fontWeight": "bold", "color": "#5f9ea0"}, "encoding": {"x": {"datum": 43.5}, "y": {"datum": 0.84}, "text": {"value": "Risk to Reward Ratio:"}}},
{"mark": {"type": "text", "align": "left", "baseline": "middle", "fontSize": 5.8, "fontWeight": "bold", "color": "#5f9ea0"}, "encoding": {"x": {"datum": 69.9}, "y": {"datum": 0.84}, "text": {"value": "Maximum StopLosses:"}}},
{"mark": {"type": "text", "align": "left", "baseline": "middle", "fontSize": 4.6, "fontWeight": "bold", "color": "#5f9ea0"}, "encoding": {"x": {"datum": 103.8}, "y": {"datum": 0.89}, "text": {"value": "DailyLow"}}},
{"mark": {"type": "text", "align": "left", "baseline": "middle", "fontSize": 4.6, "fontWeight": "bold", "color": "#5f9ea0"}, "encoding": {"x": {"datum": 111}, "y": {"datum": 0.89}, "text": {"value": "DailyHigh"}}},
{"mark": {"type": "text", "align": "left", "baseline": "middle", "fontSize": 6.5, "fontWeight": "bold", "color": "#ffa500"}, "encoding": {"x": {"datum": 37.5}, "y": {"datum": 0.84}, "text": {"value": "300"}}},
{"mark": {"type": "text", "align": "left", "baseline": "middle", "fontSize": 6.5, "fontWeight": "bold", "color": "#ffa500"}, "encoding": {"x": {"datum": 62.1}, "y": {"datum": 0.84}, "text": {"value": "3"}}},
{"mark": {"type": "text", "align": "left", "baseline": "top", "fontSize": 4.6, "lineHeight": 7, "color": "#b0c4de"}, "encoding": {"x": {"datum": 3.1}, "y": {"datum": 0.74}, "text": {"value": ["Prev 01 Day Range:", "Prev 05 Days Range:"]}}},
{"mark": {"type": "text", "align": "left", "baseline": "top", "fontSize": 4.6, "lineHeight": 7, "color": "#b0c4de"}, "encoding": {"x": {"datum": 27.4}, "y": {"datum": 0.74}, "text": {"value": ["Prev 10 Days Range:", "Prev 20 Days Range:"]}}},
{"mark": {"type": "text", "align": "left", "baseline": "top", "fontSize": 4.6, "lineHeight": 7, "color": "#b0c4de"}, "encoding": {"x": {"datum": 52.5}, "y": {"datum": 0.74}, "text": {"value": ["Room UP:", "Room DN:"]}}},
{"mark": {"type": "text", "align": "left", "baseline": "top", "fontSize": 4.6, "lineHeight": 7, "color": "#b0c4de"}, "encoding": {"x": {"datum": 69.9}, "y": {"datum": 0.74}, "text": {"value": ["Long:", "Short:"]}}},
{"mark": {"type": "text", "align": "left", "baseline": "top", "fontSize": 4.6, "lineHeight": 7, "color": "#b0c4de"}, "encoding": {"x": {"datum": 79.8}, "y": {"datum": 0.74}, "text": {"value": ["Pips at:", "Pips at:"]}}},
{"mark": {"type": "text", "align": "left", "baseline": "top", "fontSize": 4.6, "lineHeight": 7, "color": "#b0c4de"}, "encoding": {"x": {"datum": 97.8}, "y": {"datum": 0.74}, "text": {"value": ["T/Day:", "Price:"]}}},
{"mark": {"type": "text", "align": "left", "baseline": "top", "fontSize": 6.5, "lineHeight": 7, "fontWeight": "bold", "color": "#ffa500"}, "encoding": {"x": {"datum": 19.9}, "y": {"datum": 0.76}, "text": {"value": ["264", "320"]}}},
{"mark": {"type": "text", "align": "left", "baseline": "top", "fontSize": 6.5, "lineHeight": 7, "fontWeight": "bold", "color": "#ffa500"}, "encoding": {"x": {"datum": 43.8}, "y": {"datum": 0.76}, "text": {"value": ["315", "302"]}}},
{"mark": {"type": "text", "align": "left", "baseline": "top", "fontSize": 6.5, "lineHeight": 7, "fontWeight": "bold", "color": "#ffa500"}, "encoding": {"x": {"datum": 59.2}, "y": {"datum": 0.76}, "text": {"value": ["280", "-114"]}}},
{"mark": {"type": "text", "align": "left", "baseline": "top", "fontSize": 6.5, "lineHeight": 7, "fontWeight": "bold", "color": "#ffa500"}, "encoding": {"x": {"datum": 74.4}, "y": {"datum": 0.76}, "text": {"value": ["93", "-38"]}}},
{"mark": {"type": "text", "align": "left", "baseline": "top", "fontSize": 6.5, "lineHeight": 7, "fontWeight": "bold", "color": "#4682b4"}, "encoding": {"x": {"datum": 84.2}, "y": {"datum": 0.76}, "text": {"value": ["22868", "22923"]}}},
{"mark": {"type": "text", "align": "left", "baseline": "top", "fontSize": 6.5, "fontWeight": "bold", "color": "#ffa500"}, "encoding": {"x": {"datum": 103.8}, "y": {"datum": 0.76}, "text": {"value": "22941"}}},
{"mark": {"type": "text", "align": "left", "baseline": "top", "fontSize": 6.5, "fontWeight": "bold", "color": "#ffa500"}, "encoding": {"x": {"datum": 111}, "y": {"datum": 0.76}, "text": {"value": "23376"}}},
{"mark": {"type": "text", "align": "left", "baseline": "top", "fontSize": 6.5, "fontWeight": "bold", "color": "#f4603c"}, "encoding": {"x": {"datum": 103.8}, "y": {"datum": 0.57}, "text": {"value": "22961"}}},
{"mark": {"type": "text", "align": "left", "baseline": "top", "fontSize": 6.5, "fontWeight": "bold", "color": "#f4603c"}, "encoding": {"x": {"datum": 111}, "y": {"datum": 0.57}, "text": {"value": "22961"}}}
]
}
]
}
